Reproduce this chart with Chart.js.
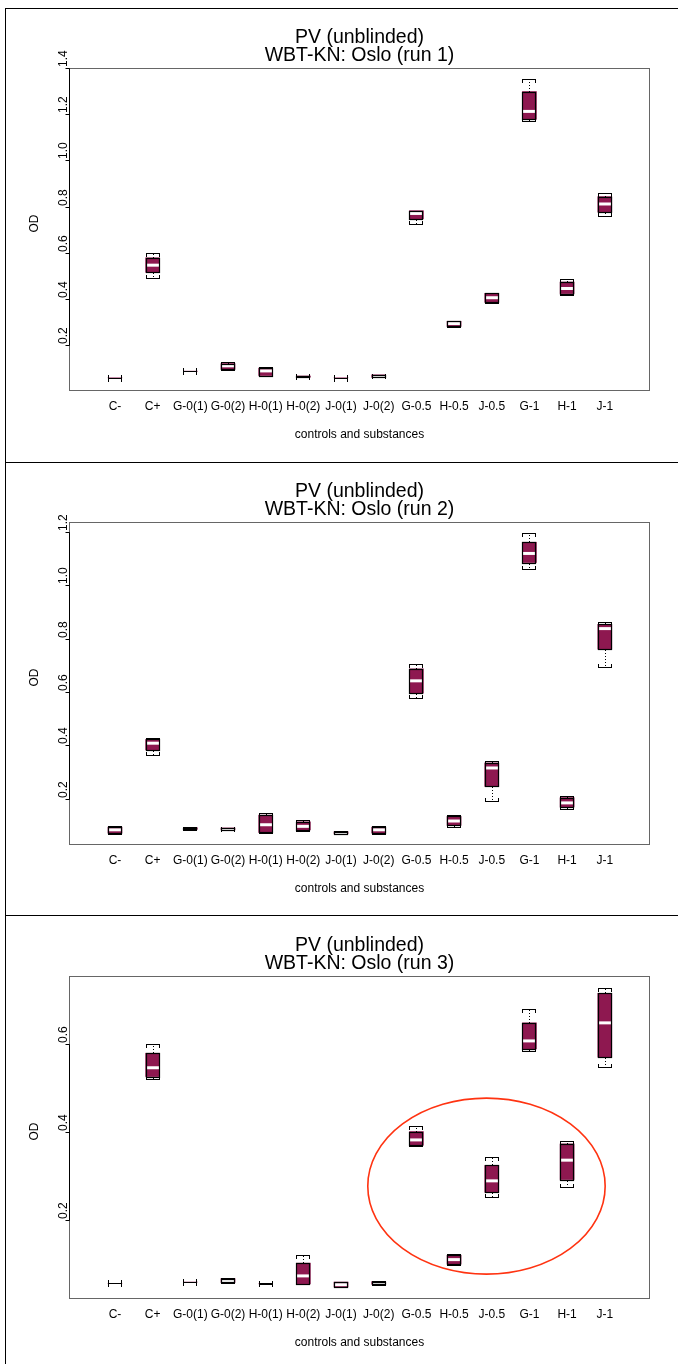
<!DOCTYPE html>
<html><head><meta charset="utf-8">
<script src="https://cdn.jsdelivr.net/npm/chart.js@4/dist/chart.umd.min.js"></script>
<style>
html,body{margin:0;padding:0;background:#fff;}
body{width:678px;height:1364px;position:relative;overflow:hidden;}
.vline{position:absolute;left:5px;top:8px;width:0;height:1356px;border-left:1px solid #000;}
.sep{position:absolute;left:5px;width:673px;height:0;border-top:1px solid #000;}
.panel{position:absolute;left:0;width:678px;height:454px;}
canvas{display:block;}
</style></head>
<body>
<div class="vline"></div>
<div class="sep" style="top:8px"></div>
<div class="sep" style="top:462px"></div>
<div class="sep" style="top:915px"></div>
<div class="panel" style="top:8px"><canvas id="run1" width="678" height="454"></canvas></div>
<div class="panel" style="top:462px"><canvas id="run2" width="678" height="454"></canvas></div>
<div class="panel" style="top:916px"><canvas id="run3" width="678" height="454"></canvas></div>
<script>
// ---------------- data ----------------
const categories = ['C-','C+','G-0(1)','G-0(2)','H-0(1)','H-0(2)','J-0(1)','J-0(2)','G-0.5','H-0.5','J-0.5','G-1','H-1','J-1'];
const titleLine1 = 'PV (unblinded)';
const xAxisTitle = 'controls and substances';
const yAxisTitle = 'OD';

// run 1
const run1Title = 'WBT-KN: Oslo (run 1)';
const run1YTicks = [0.2,0.4,0.6,0.8,1.0,1.2,1.4];
const run1Low    = [0.057,0.490,0.086,0.092,0.065,0.060,0.057,0.060,0.723,0.279,0.383,1.170,0.416,0.759];
const run1Q1     = [0.058,0.515,0.086,0.095,0.068,0.061,0.058,0.060,0.747,0.281,0.385,1.178,0.423,0.776];
const run1Median = [0.058,0.546,0.087,0.110,0.088,0.063,0.058,0.066,0.770,0.293,0.405,1.212,0.445,0.811];
const run1Q3     = [0.058,0.578,0.087,0.120,0.100,0.066,0.058,0.071,0.782,0.303,0.424,1.298,0.473,0.843];
const run1High   = [0.059,0.600,0.088,0.125,0.106,0.067,0.059,0.072,0.782,0.305,0.426,1.351,0.484,0.860];

// run 2
const run2Title = 'WBT-KN: Oslo (run 2)';
const run2YTicks = [0.2,0.4,0.6,0.8,1.0,1.2];
const run2Low    = [0.068,0.364,0.083,0.083,0.070,0.080,0.068,0.068,0.578,0.094,0.192,1.061,0.162,0.693];
const run2Q1     = [0.071,0.383,0.085,0.084,0.073,0.083,0.069,0.071,0.596,0.100,0.246,1.086,0.169,0.761];
const run2Median = [0.083,0.408,0.088,0.087,0.102,0.096,0.072,0.083,0.642,0.116,0.315,1.120,0.184,0.838];
const run2Q3     = [0.093,0.422,0.091,0.090,0.138,0.113,0.076,0.093,0.687,0.133,0.334,1.162,0.204,0.854];
const run2High   = [0.098,0.428,0.093,0.091,0.146,0.118,0.078,0.098,0.704,0.139,0.342,1.195,0.209,0.862];

// run 3
const run3Title = 'WBT-KN: Oslo (run 3)';
const run3YTicks = [0.2,0.4,0.6];
const run3Low    = [0.056,0.520,0.059,0.056,0.055,0.054,0.048,0.052,0.369,0.098,0.252,0.585,0.274,0.547];
const run3Q1     = [0.056,0.526,0.059,0.058,0.055,0.055,0.048,0.054,0.370,0.100,0.263,0.589,0.292,0.570];
const run3Median = [0.056,0.546,0.059,0.062,0.055,0.073,0.053,0.057,0.382,0.110,0.289,0.607,0.336,0.648];
const run3Q3     = [0.056,0.579,0.059,0.067,0.055,0.102,0.059,0.060,0.401,0.120,0.324,0.648,0.373,0.715];
const run3High   = [0.057,0.599,0.060,0.069,0.056,0.120,0.059,0.061,0.414,0.122,0.344,0.679,0.380,0.727];

// highlighted group in run 3 (data units: category position, OD)
const run3Highlight = {cx: 10.86, cy: 0.277, rx: 3.15, ry: 0.2};

// ---------------- styling ----------------
const FONT = '"Liberation Sans", Arial, Helvetica, sans-serif';
const BOX_FILL = '#8e1850';
const FRAME = '#666';
const BOX_W = 14;

const panels = {
  run1: {title: run1Title, ticks: run1YTicks, yMin: 0.001, yMax: 1.4,
         low: run1Low, q1: run1Q1, med: run1Median, q3: run1Q3, high: run1High},
  run2: {title: run2Title, ticks: run2YTicks, yMin: 0.026, yMax: 1.238,
         low: run2Low, q1: run2Q1, med: run2Median, q3: run2Q3, high: run2High},
  run3: {title: run3Title, ticks: run3YTicks, yMin: 0.0205, yMax: 0.7545,
         low: run3Low, q1: run3Q1, med: run3Median, q3: run3Q3, high: run3High,
         highlight: run3Highlight}
};

function seg(ctx, x1, y1, x2, y2) { ctx.beginPath(); ctx.moveTo(x1, y1); ctx.lineTo(x2, y2); ctx.stroke(); }

const boxPlugin = {
  id: 'boxDecor',
  beforeDatasetsDraw(chart) {
    const p = panels[chart.canvas.id];
    const {ctx, chartArea: a, scales: {y}} = chart;
    ctx.save();
    ctx.strokeStyle = FRAME; ctx.lineWidth = 1;
    ctx.strokeRect(Math.round(a.left) + 0.5, Math.round(a.top) + 0.5,
                   Math.round(a.right - a.left) - 1, Math.round(a.bottom - a.top) - 1);
    const xl = Math.round(a.left) + 0.5;
    const t0 = Math.round(y.getPixelForValue(p.ticks[0])) + 0.5;
    const t1 = Math.round(y.getPixelForValue(p.ticks[p.ticks.length - 1])) + 0.5;
    ctx.strokeStyle = '#000';
    seg(ctx, xl, t0, xl, t1);
    p.ticks.forEach(v => {
      const ty = Math.round(y.getPixelForValue(v)) + 0.5;
      seg(ctx, xl - 4, ty, xl, ty);
    });
    ctx.restore();
  },
  afterDatasetsDraw(chart) {
    const p = panels[chart.canvas.id];
    const {ctx, scales: {x, y}} = chart;
    const meta = chart.getDatasetMeta(0);
    ctx.save();
    meta.data.forEach((bar, i) => {
      const L = Math.round(bar.x - BOX_W / 2), R = L + BOX_W, C = L + BOX_W / 2;
      const yq3 = Math.round(y.getPixelForValue(p.q3[i]));
      const yq1 = Math.round(y.getPixelForValue(p.q1[i]));
      const ym = y.getPixelForValue(p.med[i]);
      const yhi = Math.round(y.getPixelForValue(p.high[i]));
      const ylo = Math.round(y.getPixelForValue(p.low[i]));
      if (yq1 - yq3 > 1) {
        ctx.save();
        ctx.beginPath(); ctx.rect(L + 1, yq3 + 1, BOX_W - 2, yq1 - yq3 - 1); ctx.clip();
        ctx.strokeStyle = '#fff'; ctx.lineWidth = 3;
        seg(ctx, L, ym, R, ym);
        ctx.restore();
      }
      ctx.strokeStyle = '#000'; ctx.lineWidth = 1.2;
      ctx.strokeRect(L + 0.5, yq3 + 0.5, BOX_W - 1, yq1 - yq3);
      ctx.lineWidth = 1;
      ctx.setLineDash([1, 2]);
      if (yq3 - yhi > 1) seg(ctx, C + 0.5, yq3, C + 0.5, yhi);
      if (ylo - yq1 > 1) seg(ctx, C + 0.5, yq1 + 1, C + 0.5, ylo);
      ctx.setLineDash([]);
      seg(ctx, L, yhi + 0.5, R, yhi + 0.5);
      seg(ctx, L + 0.5, yhi, L + 0.5, yhi + 4);
      seg(ctx, R - 0.5, yhi, R - 0.5, yhi + 4);
      seg(ctx, L, ylo + 0.5, R, ylo + 0.5);
      seg(ctx, L + 0.5, ylo + 1, L + 0.5, ylo - 3);
      seg(ctx, R - 0.5, ylo + 1, R - 0.5, ylo - 3);
    });
    if (p.highlight) {
      const h = p.highlight;
      const cx = x.getPixelForValue(h.cx), cy = y.getPixelForValue(h.cy);
      const rx = x.getPixelForValue(h.cx + h.rx) - cx;
      const ry = cy - y.getPixelForValue(h.cy + h.ry);
      ctx.strokeStyle = '#ff3311'; ctx.lineWidth = 1.6;
      ctx.beginPath(); ctx.ellipse(cx, cy, rx, ry, 0, 0, Math.PI * 2); ctx.stroke();
    }
    ctx.restore();
  },
  afterDraw(chart) {
    const p = panels[chart.canvas.id];
    const {ctx, chartArea: a, scales: {x, y}} = chart;
    const midX = (a.left + a.right) / 2;
    ctx.save();
    ctx.fillStyle = '#000';
    ctx.font = '19.5px ' + FONT;
    ctx.textAlign = 'center'; ctx.textBaseline = 'middle';
    ctx.fillText(titleLine1, midX, 30);
    ctx.fillText(p.title, midX, 48);
    ctx.font = '12px ' + FONT;
    categories.forEach((c, i) => ctx.fillText(c, x.getPixelForValue(i + 1), a.bottom + 16));
    ctx.fillText(xAxisTitle, midX, a.bottom + 44);
    p.ticks.forEach(v => {
      const ty = Math.round(y.getPixelForValue(v));
      ctx.save();
      ctx.translate(a.left - 2, ty - 1);
      ctx.rotate(-Math.PI / 2);
      ctx.textAlign = 'left'; ctx.textBaseline = 'alphabetic';
      ctx.fillText(v.toFixed(1), 0, 0);
      ctx.restore();
    });
    ctx.save();
    ctx.translate(35, (a.top + a.bottom) / 2 - 6);
    ctx.rotate(-Math.PI / 2);
    ctx.textAlign = 'center'; ctx.textBaseline = 'middle';
    ctx.fillText(yAxisTitle, 0, 0);
    ctx.restore();
    ctx.restore();
  }
};

function makeChart(id) {
  const p = panels[id];
  return new Chart(document.getElementById(id), {
    type: 'bar',
    data: {
      datasets: [{
        data: categories.map((c, i) => ({x: i + 1, y: [p.q1[i], p.q3[i]]})),
        backgroundColor: BOX_FILL,
        borderWidth: 0,
        barThickness: BOX_W
      }]
    },
    options: {
      responsive: false,
      animation: false,
      events: [],
      layout: {padding: {left: 69, right: 28, top: 60, bottom: 71}},
      scales: {
        x: {type: 'linear', display: false, offset: false, min: -0.22, max: 15.2},
        y: {type: 'linear', display: false, min: p.yMin, max: p.yMax}
      },
      plugins: {legend: {display: false}, tooltip: {enabled: false}, title: {display: false}}
    },
    plugins: [boxPlugin]
  });
}
['run1', 'run2', 'run3'].forEach(makeChart);
</script>
</body></html>
